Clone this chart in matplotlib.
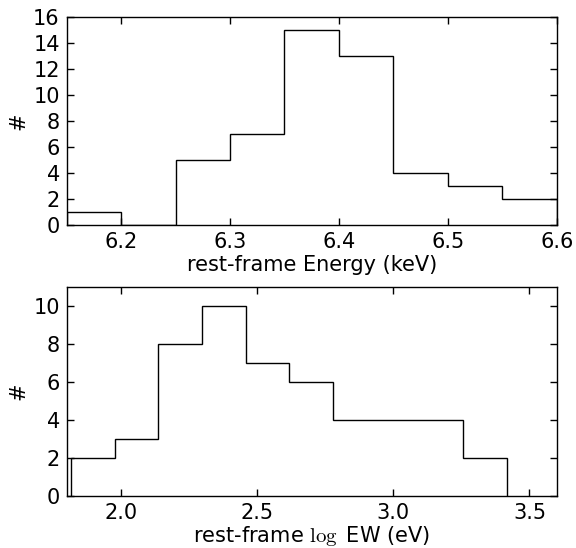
import matplotlib
matplotlib.use("Agg")
import matplotlib.pyplot as plt
import numpy as np

# Top histogram: rest-frame Energy (keV)
energy_edges = [6.15, 6.20, 6.25, 6.30, 6.35, 6.40, 6.45, 6.50, 6.55, 6.60]
energy_counts = [1, 0, 5, 7, 15, 13, 4, 3, 2]

# Bottom histogram: rest-frame log EW (eV)
ew_edges = [1.817, 1.977, 2.137, 2.297, 2.457, 2.617, 2.777, 2.937, 3.097, 3.257, 3.417]
ew_counts = [2, 3, 8, 10, 7, 6, 4, 4, 4, 2]

plt.rcParams['mathtext.fontset'] = 'cm'
FS = 15

fig = plt.figure(figsize=(5.76, 5.48), dpi=100, facecolor='white')
ax1 = fig.add_axes([0.1158, 0.5894, 0.8507, 0.3796])
ax2 = fig.add_axes([0.1158, 0.0955, 0.8507, 0.3803])

for ax in (ax1, ax2):
    ax.tick_params(direction='in', top=True, right=True, length=5, width=1,
                   labelsize=FS, pad=5)
    for s in ax.spines.values():
        s.set_linewidth(1.0)

ax1.stairs(energy_counts, energy_edges, color='black', linewidth=1.0, baseline=0)
ax1.set_xlim(6.15, 6.6)
ax1.set_ylim(0, 16)
ax1.set_xticks([6.2, 6.3, 6.4, 6.5, 6.6])
ax1.set_yticks(np.arange(0, 17, 2))
ax1.set_xlabel('rest-frame Energy (keV)', fontsize=FS, labelpad=2)
ax1.set_ylabel('#', fontsize=FS)
ax1.yaxis.set_label_coords(-0.078, 0.5)

ax2.stairs(ew_counts, ew_edges, color='black', linewidth=1.0, baseline=0)
ax2.set_xlim(1.8, 3.6)
ax2.set_ylim(0, 11)
ax2.set_xticks([2.0, 2.5, 3.0, 3.5])
ax2.set_yticks(np.arange(0, 11, 2))
ax2.set_xlabel(r'rest-frame $\log$ EW (eV)', fontsize=FS, labelpad=1)
ax2.set_ylabel('#', fontsize=FS)
ax2.yaxis.set_label_coords(-0.078, 0.5)

fig.savefig('out.png', dpi=100, facecolor='white')
